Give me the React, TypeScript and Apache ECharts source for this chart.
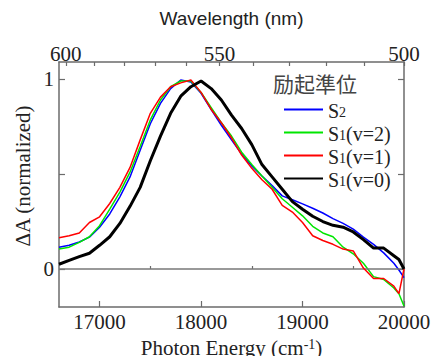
import React, { useEffect, useRef } from "react";
import * as echarts from "echarts";

// Photon energy grid (cm^-1)
const energy = [
  16600, 16700, 16800, 16900, 17000, 17100, 17200, 17300, 17400, 17500,
  17600, 17700, 17800, 17900, 18000, 18100, 18200, 18300, 18400, 18500,
  18600, 18700, 18800, 18900, 19000, 19100, 19200, 19300, 19400, 19500,
  19600, 19700, 19800, 19900, 19950, 20000,
];

// ΔA (normalized) for each excitation level
const s2 = [
  0.115, 0.125, 0.142, 0.168, 0.22, 0.29, 0.38, 0.485, 0.625, 0.765,
  0.872, 0.95, 0.995, 0.985, 0.925, 0.84, 0.757, 0.68, 0.605, 0.543,
  0.49, 0.44, 0.385, 0.365, 0.343, 0.32, 0.295, 0.265, 0.24, 0.21,
  0.168, 0.13, 0.085, 0.03, -0.005, -0.045,
];
const s1v2 = [
  0.105, 0.115, 0.14, 0.17, 0.228, 0.315, 0.405, 0.51, 0.645, 0.785,
  0.89, 0.96, 0.99, 0.99, 0.93, 0.85, 0.77, 0.7, 0.615, 0.55,
  0.49, 0.43, 0.37, 0.325, 0.28, 0.225, 0.19, 0.17, 0.115, 0.08,
  0.03, -0.04, -0.055, -0.1, -0.13, -0.195,
];
const s1v1 = [
  0.165, 0.175, 0.19, 0.245, 0.275, 0.345, 0.43, 0.535, 0.68, 0.82,
  0.905, 0.96, 0.98, 0.995, 0.93, 0.84, 0.77, 0.69, 0.6, 0.53,
  0.47, 0.42, 0.335, 0.3, 0.245, 0.175, 0.15, 0.13, 0.105, 0.095,
  0.005, -0.05, -0.05, -0.09, -0.13, 0.0,
];
const s1v0 = [
  0.025, 0.045, 0.065, 0.083, 0.125, 0.17, 0.24, 0.33, 0.43, 0.57,
  0.7, 0.82, 0.91, 0.96, 0.99, 0.95, 0.89, 0.81, 0.74, 0.655,
  0.55, 0.485, 0.42, 0.355, 0.315, 0.278, 0.25, 0.23, 0.22, 0.195,
  0.155, 0.11, 0.11, 0.07, 0.05, 0.0,
];

const seriesNames = ["S2", "S1(v=2)", "S1(v=1)", "S1(v=0)"];
const seriesColors = ["#0000ff", "#00e600", "#ff0000", "#000000"];
const seriesWidths = [1.5, 1.5, 1.5, 3];
const seriesValues = [s2, s1v2, s1v1, s1v0];

const energyMajorTicks = [17000, 18000, 19000, 20000];
const energyMinorTicks = [17500, 18500, 19500];
const wavelengthTicks = [600, 590, 580, 570, 560, 550, 540, 530, 520, 510, 500];
const wavelengthLabels = [600, 550, 500];
const yTicks = [0, 0.5, 1];
const yLabels = [0, 1];

const serif = "Liberation Serif, DejaVu Serif, serif";
const sans = "Liberation Sans, Arial, sans-serif";
const axisColor = "#6b6b6b";
const textColor = "#222";

const tickRich = {
  t: { fontFamily: serif, fontSize: 21, color: textColor, lineHeight: 22 },
};

export default function App() {
  const ref = useRef<HTMLDivElement>(null);
  useEffect(() => {
    if (!ref.current) return;
    document.body.style.margin = "0";
    const chart = echarts.init(ref.current, null, { renderer: "svg" });
    const xMin = 16600;
    const xMax = 20000;
    const yMin = -0.2;
    const yMax = 1.09;
    const gridBox = { left: 59, right: 29, top: 62, bottom: 49, outerBoundsMode: "none", containLabel: false };

    const legendFormatter = (name: string) => {
      const m = name.match(/^S(\d)(.*)$/);
      if (!m) return name;
      return m[2] ? `{s|S}{sub|${m[1]}}{s|${m[2]}}` : `{s|S}{sub|${m[1]}}`;
    };

    const option: any = {
      animation: false,
      textStyle: { fontFamily: serif },
      grid: [{ ...gridBox }, { ...gridBox }],
      legend: {
        orient: "vertical",
        left: 278,
        top: 93,
        itemWidth: 39,
        itemHeight: 10,
        itemGap: 0,
        data: seriesNames,
        formatter: legendFormatter,
        itemStyle: { opacity: 0 },
        textStyle: {
          rich: {
            s: { fontFamily: serif, fontSize: 20, lineHeight: 19, color: textColor, padding: [3, 0, 0, 0] },
            sub: {
              fontFamily: serif,
              fontSize: 14,
              lineHeight: 3,
              verticalAlign: "bottom",
              color: textColor,
            },
          },
        },
        selectedMode: false,
      },
      xAxis: [
        {
          type: "value",
          gridIndex: 0,
          position: "bottom",
          min: xMin,
          max: xMax,
          axisLine: { onZero: false, lineStyle: { color: axisColor, width: 1.5 } },
          axisTick: {
            inside: true,
            length: 6,
            customValues: energyMajorTicks,
            lineStyle: { color: axisColor, width: 1.2 },
          },
          axisLabel: {
            customValues: energyMajorTicks,
            formatter: (v: number) => `{t|${v}}`,
            rich: tickRich,
            margin: 4,
          },
          splitLine: { show: false },
          name: "{a|Photon Energy (cm}{sup|-1}{a|)}",
          nameLocation: "middle",
          nameGap: 26,
          nameTextStyle: {
            rich: {
              a: { fontFamily: serif, fontSize: 21, lineHeight: 22, color: textColor },
              sup: {
                fontFamily: serif,
                fontSize: 14,
                lineHeight: 8,
                verticalAlign: "top",
                color: textColor,
              },
            },
          },
        },
        {
          type: "value",
          gridIndex: 0,
          position: "top",
          min: xMin,
          max: xMax,
          axisLine: { onZero: false, lineStyle: { color: axisColor, width: 1.5 } },
          axisTick: {
            inside: true,
            length: 4,
            customValues: wavelengthTicks.map((w) => 1e7 / w),
            lineStyle: { color: axisColor, width: 1.2 },
          },
          axisLabel: {
            customValues: wavelengthLabels.map((w) => 1e7 / w),
            formatter: (v: number) => `{t|${Math.round(1e7 / v)}}`,
            rich: tickRich,
            margin: -3,
          },
          splitLine: { show: false },
          name: "Wavelength (nm)",
          nameLocation: "middle",
          nameGap: 34,
          nameTextStyle: { fontFamily: sans, fontSize: 19, color: textColor },
        },
        {
          type: "value",
          gridIndex: 1,
          position: "bottom",
          min: xMin,
          max: xMax,
          axisLine: { show: false },
          axisTick: {
            inside: true,
            length: 3,
            customValues: energyMinorTicks,
            lineStyle: { color: axisColor, width: 1.2 },
          },
          axisLabel: { show: false },
          splitLine: { show: false },
        },
      ],
      yAxis: [
        {
          type: "value",
          gridIndex: 0,
          position: "left",
          min: yMin,
          max: yMax,
          axisLine: { show: true, onZero: false, lineStyle: { color: axisColor, width: 1.5 } },
          axisTick: {
            show: true,
            inside: true,
            length: 6,
            customValues: yTicks,
            lineStyle: { color: axisColor, width: 1.2 },
          },
          axisLabel: {
            customValues: yLabels,
            formatter: (v: number) => `{t|${v}}`,
            rich: tickRich,
            margin: 5,
          },
          splitLine: { show: false },
        },
        {
          type: "value",
          gridIndex: 0,
          position: "right",
          min: yMin,
          max: yMax,
          axisLine: { show: true, onZero: false, lineStyle: { color: axisColor, width: 1.5 } },
          axisTick: {
            show: true,
            inside: true,
            length: 6,
            customValues: yTicks,
            lineStyle: { color: axisColor, width: 1.2 },
          },
          axisLabel: { show: false },
          splitLine: { show: false },
        },
        {
          type: "value",
          gridIndex: 1,
          min: yMin,
          max: yMax,
          show: false,
        },
      ],
      graphic: [
        {
          type: "text",
          x: 23,
          y: 176,
          rotation: Math.PI / 2,
          style: {
            text: "{a|ΔA (normalized)}",
            rich: { a: { fontFamily: serif, fontSize: 21, fill: textColor, color: textColor } },
            align: "center",
            verticalAlign: "middle",
          },
        },
        {
          type: "text",
          x: 273,
          y: 83,
          style: {
            text: "励起準位",
            fontFamily: "Noto Sans CJK JP",
            fontSize: 21,
            fill: "#444",
            align: "left",
            verticalAlign: "middle",
          },
        },
      ],
      series: seriesNames.map((name, i) => ({
        name,
        type: "line",
        xAxisIndex: 0,
        yAxisIndex: 0,
        data: energy.map((e, k) => [e, seriesValues[i][k]]),
        symbol: "none",
        showSymbol: false,
        lineStyle: { color: seriesColors[i], width: seriesWidths[i] },
        itemStyle: { color: seriesColors[i] },
        z: 3 + i,
        markLine:
          i === 0
            ? {
                silent: true,
                symbol: ["none", "none"],
                label: { show: false },
                lineStyle: { color: "#777", width: 1.6, type: "solid" },
                data: [{ yAxis: 0 }],
              }
            : undefined,
      })),
    };
    chart.setOption(option);
    return () => chart.dispose();
  }, []);
  return <div ref={ref} style={{ width: 433, height: 356 }} />;
}
